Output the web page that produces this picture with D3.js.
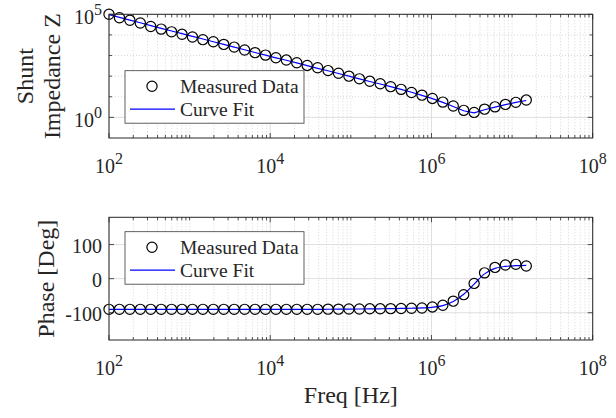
<!DOCTYPE html>
<html>
<head>
<meta charset="utf-8">
<script src="https://cdn.jsdelivr.net/npm/d3@7"></script>
<style>
  html, body { margin: 0; padding: 0; background: #fff; }
  svg { display: block; }
  text { font-family: "Liberation Serif", "Times New Roman", serif; fill: #262626; }
</style>
</head>
<body>
<svg id="chart" width="616" height="418"></svg>
<script>
// ---------------- data ----------------
const freqHz = [100, 134.7, 181.5, 244.5, 329.3, 443.6, 597.5, 804.9, 1084, 1460,
  1968, 2651, 3571, 4810, 6479, 8730, 11760, 15840, 21340, 28740,
  38730, 52170, 70280, 94660, 127550, 171800, 231400, 311800, 420000, 565700,
  762100, 1026600, 1383000, 1863000, 2510000, 3381000, 4554000, 6135000, 8264000, 11133000,
  14997000];

const measuredZ = [100000, 67600, 51300, 38000, 25700, 19100, 14100, 10700, 7940, 5890,
  4680, 3470, 2570, 1860, 1380, 1050, 776, 603, 447, 331,
  257, 186, 138, 100, 74.1, 56.2, 42.7, 30.9, 22.9, 16.2,
  12.0, 8.3, 5.5, 3.55, 2.19, 1.74, 2.51, 3.24, 4.27, 5.37,
  6.92];

const fitZ = [95500, 70800, 52500, 38900, 28200, 20900, 15500, 11500, 8510, 6310,
  4680, 3470, 2570, 1910, 1410, 1050, 776, 589, 437, 324,
  240, 182, 135, 100, 74.1, 55.0, 41.7, 30.9, 22.9, 16.6,
  11.7, 8.13, 5.37, 3.39, 2.09, 1.66, 2.34, 3.16, 4.17, 5.37,
  6.61];

const measuredPhase = [-90, -90, -90, -90, -90, -90, -90, -90, -90, -90,
  -90, -90, -90, -90, -90, -90, -90, -90, -90, -90,
  -90, -89.5, -89.5, -89, -89, -88.5, -88.5, -88, -87.5, -87,
  -86, -83, -78, -66, -47, -14, 17, 33, 40, 42,
  37];

const fitPhase = [-90, -90, -90, -90, -90, -90, -90, -90, -90, -90,
  -90, -90, -90, -90, -90, -90, -90, -90, -90, -90,
  -90, -89.8, -89.6, -89.4, -89.1, -88.8, -88.4, -88, -87.5, -86.8,
  -85.8, -84, -79, -67, -46, -16, 14, 30, 36, 38,
  39];

const xTickExps = [2, 4, 6, 8];
const zTickExps = [0, 5];
const phaseTicks = [-100, 0, 100];
const legendLabels = ["Measured Data", "Curve Fit"];

// ---------------- layout ----------------
const svg = d3.select("#chart");
const L = 109, R = 592.7;
const axisColor = "#262626";
const majorGrid = "#dedede";
const minorGrid = "#c4c4c4";
const markerR = 5.1;

const x = d3.scaleLog().domain([1e2, 1e8]).range([L, R]);

const xMinor = [];
for (let k = 2; k < 8; k++) {
  for (let m = 1; m <= 9; m++) {
    const v = m * Math.pow(10, k);
    if (!(m === 1 && k % 2 === 0)) xMinor.push(v);
  }
}

function supLabel(sel, exp) {
  sel.append("tspan").text("10");
  sel.append("tspan").attr("dy", "-9").attr("font-size", "16px").text(exp);
}

function panel(opts) {
  const g = svg.append("g");
  const { y, top, bottom, yMajor, yMinor, yLabelFn } = opts;

  // minor grid
  g.append("g").selectAll("line").data(xMinor).join("line")
    .attr("x1", d => x(d)).attr("x2", d => x(d))
    .attr("y1", top).attr("y2", bottom)
    .attr("stroke", minorGrid).attr("stroke-width", 0.7).attr("stroke-dasharray", "1,2");
  g.append("g").selectAll("line").data(yMinor).join("line")
    .attr("x1", L).attr("x2", R)
    .attr("y1", d => y(d)).attr("y2", d => y(d))
    .attr("stroke", minorGrid).attr("stroke-width", 0.7).attr("stroke-dasharray", "1,2");
  // major grid
  const xMaj = xTickExps.map(e => Math.pow(10, e));
  g.append("g").selectAll("line").data(xMaj).join("line")
    .attr("x1", d => x(d)).attr("x2", d => x(d))
    .attr("y1", top).attr("y2", bottom)
    .attr("stroke", majorGrid).attr("stroke-width", 1);
  g.append("g").selectAll("line").data(yMajor).join("line")
    .attr("x1", L).attr("x2", R)
    .attr("y1", d => y(d)).attr("y2", d => y(d))
    .attr("stroke", majorGrid).attr("stroke-width", 1);

  // ticks (inside, all four sides)
  const tk = g.append("g").attr("stroke", axisColor).attr("stroke-width", 0.8);
  xMaj.forEach(v => {
    tk.append("line").attr("x1", x(v)).attr("x2", x(v)).attr("y1", bottom).attr("y2", bottom - 5);
    tk.append("line").attr("x1", x(v)).attr("x2", x(v)).attr("y1", top).attr("y2", top + 5);
  });
  xMinor.forEach(v => {
    tk.append("line").attr("x1", x(v)).attr("x2", x(v)).attr("y1", bottom).attr("y2", bottom - 3);
    tk.append("line").attr("x1", x(v)).attr("x2", x(v)).attr("y1", top).attr("y2", top + 3);
  });
  yMajor.forEach(v => {
    tk.append("line").attr("x1", L).attr("x2", L + 5).attr("y1", y(v)).attr("y2", y(v));
    tk.append("line").attr("x1", R).attr("x2", R - 5).attr("y1", y(v)).attr("y2", y(v));
  });
  yMinor.forEach(v => {
    tk.append("line").attr("x1", L).attr("x2", L + 3).attr("y1", y(v)).attr("y2", y(v));
    tk.append("line").attr("x1", R).attr("x2", R - 3).attr("y1", y(v)).attr("y2", y(v));
  });

  // data
  const line = d3.line().x(d => x(d[0])).y(d => y(d[1])).curve(opts.curve);
  g.append("path").datum(freqHz.map((f, i) => [f, opts.fit[i]]))
    .attr("d", line).attr("fill", "none").attr("stroke", "#0000ff").attr("stroke-width", 1.2);
  g.append("g").selectAll("circle").data(freqHz.map((f, i) => [f, opts.meas[i]])).join("circle")
    .attr("cx", d => x(d[0])).attr("cy", d => y(d[1])).attr("r", markerR)
    .attr("fill", "none").attr("stroke", "#000").attr("stroke-width", 1.2);

  // box
  g.append("rect").attr("x", L).attr("y", top).attr("width", R - L).attr("height", bottom - top)
    .attr("fill", "none").attr("stroke", axisColor).attr("stroke-width", 1);

  // x tick labels
  xTickExps.forEach(e => {
    const t = g.append("text").attr("x", x(Math.pow(10, e))).attr("y", bottom + 35)
      .attr("text-anchor", "middle").attr("font-size", "20px");
    supLabel(t, e);
  });
  // y tick labels
  yMajor.forEach((v, i) => {
    const t = g.append("text").attr("x", L - 7).attr("y", y(v) + opts.yLabelDy)
      .attr("text-anchor", "end").attr("font-size", "20px");
    yLabelFn(t, v, i);
  });

  // legend
  const lg = g.append("g");
  lg.append("rect").attr("x", 125).attr("y", opts.legTop).attr("width", 179).attr("height", 52.5)
    .attr("fill", "#fff").attr("stroke", "#3a3a3a").attr("stroke-width", 0.8);
  const r1 = opts.legTop + 15.5, r2 = opts.legTop + 38.5;
  lg.append("circle").attr("cx", 152).attr("cy", r1).attr("r", markerR)
    .attr("fill", "none").attr("stroke", "#000").attr("stroke-width", 1.2);
  lg.append("line").attr("x1", 130).attr("x2", 175).attr("y1", r2).attr("y2", r2)
    .attr("stroke", "#0000ff").attr("stroke-width", 1.2);
  lg.append("text").attr("x", 180).attr("y", r1 + 6.5).attr("font-size", "19.5px").text(legendLabels[0]);
  lg.append("text").attr("x", 180).attr("y", r2 + 6.5).attr("font-size", "19.5px").text(legendLabels[1]);
  return g;
}

// ---------------- top panel: impedance ----------------
const topA = 14.3, botA = 138;
const yZ = d3.scaleLog().domain([1e-1, 1e5]).range([botA, topA]);
panel({
  y: yZ, top: topA, bottom: botA,
  yMajor: zTickExps.map(e => Math.pow(10, e)),
  yMinor: [1e1, 1e2, 1e3, 1e4],
  yLabelDy: 10,
  yLabelFn: (t, v, i) => supLabel(t, zTickExps[i]),
  meas: measuredZ, fit: fitZ, curve: d3.curveLinear,
  legTop: 70.7
});

// ---------------- bottom panel: phase ----------------
const topB = 217.3, botB = 340;
const yP = d3.scaleLinear().domain([-180, 180]).range([botB, topB]);
panel({
  y: yP, top: topB, bottom: botB,
  yMajor: phaseTicks,
  yMinor: [],
  yLabelDy: 8,
  yLabelFn: (t, v) => t.text(String(v)),
  meas: measuredPhase, fit: fitPhase, curve: d3.curveMonotoneX,
  legTop: 231.7
});

// ---------------- axis titles ----------------
const tCY = (topA + botA) / 2;
svg.append("text").attr("transform", `translate(33,${tCY}) rotate(-90)`)
  .attr("text-anchor", "middle").attr("font-size", "24px").text("Shunt");
svg.append("text").attr("transform", `translate(60,${tCY}) rotate(-90)`)
  .attr("text-anchor", "middle").attr("font-size", "24px").text("Impedance Z");
svg.append("text").attr("transform", `translate(54,${(topB + botB) / 2}) rotate(-90)`)
  .attr("text-anchor", "middle").attr("font-size", "24px").text("Phase [Deg]");
svg.append("text").attr("x", (L + R) / 2).attr("y", 403)
  .attr("text-anchor", "middle").attr("font-size", "24px").text("Freq [Hz]");
</script>
</body>
</html>
